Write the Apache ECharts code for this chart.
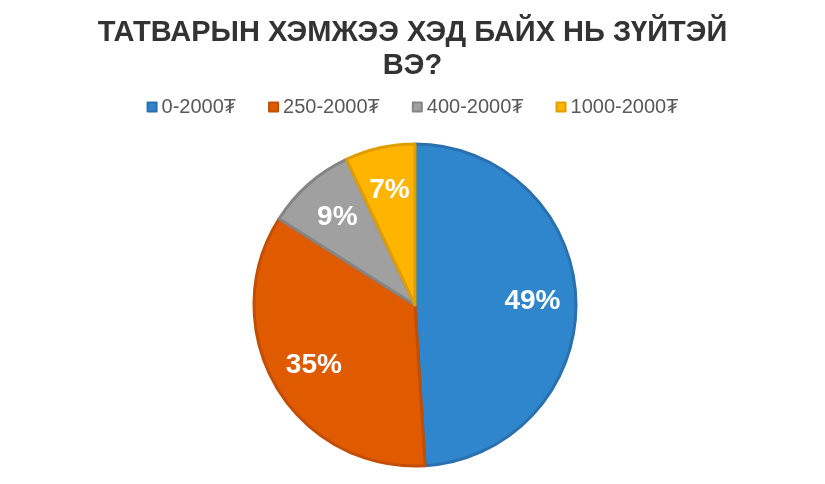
<!DOCTYPE html>
<html>
<head>
<meta charset="utf-8">
<script src="https://cdn.jsdelivr.net/npm/echarts@6/dist/echarts.min.js"></script>
<style>html,body{margin:0;padding:0;background:#fff}#c{width:825px;height:484px}</style>
</head>
<body>
<div id="c"></div>
<script>
const titleText = 'ТАТВАРЫН ХЭМЖЭЭ ХЭД БАЙХ НЬ ЗҮЙТЭЙ\nВЭ?';
const categories = ['0-2000₮', '250-2000₮', '400-2000₮', '1000-2000₮'];
const values = [49, 35, 9, 7];
const fillColors = ['#2F86CC', '#E05A00', '#A0A0A0', '#FFB400'];
const borderColors = ['#2A70AE', '#C24E05', '#858585', '#DE9E00'];

const chart = echarts.init(document.getElementById('c'), null, {renderer: 'canvas'});
const mainData = categories.map((n, i) => ({
  name: n, value: values[i],
  itemStyle: {color: fillColors[i], borderColor: borderColors[i], borderWidth: 3}
}));
const labelData = categories.map((n, i) => ({name: n, value: values[i]}));

chart.setOption({
  animation: false,
  title: {
    text: titleText,
    left: 'center',
    top: 11,
    textStyle: {fontFamily: 'Liberation Sans, Arial, sans-serif', fontSize: 29, fontWeight: 'bold', color: '#333333', lineHeight: 33}
  },
  legend: {
    data: categories,
    top: 92,
    left: 'center',
    icon: 'rect',
    itemWidth: 9,
    itemHeight: 9,
    itemGap: 32,
    textStyle: {fontFamily: 'Liberation Sans, Arial, sans-serif', fontSize: 20, color: '#595959'}
  },
  series: [
    {
      type: 'pie',
      center: [415, 305],
      radius: 161,
      startAngle: 90,
      clockwise: true,
      label: {show: false},
      labelLine: {show: false},
      emphasis: {disabled: true},
      data: mainData
    },
    {
      type: 'pie',
      center: [415, 305],
      radius: [68, 161],
      startAngle: 90,
      clockwise: true,
      silent: true,
      itemStyle: {color: 'rgba(0,0,0,0)'},
      label: {
        show: true,
        position: 'inside',
        formatter: p => p.value + '%',
        color: '#FFFFFF',
        fontFamily: 'Liberation Sans, Arial, sans-serif',
        fontSize: 28,
        fontWeight: 'bold'
      },
      labelLine: {show: false},
      emphasis: {disabled: true},
      data: labelData
    }
  ]
});
</script>
</body>
</html>
